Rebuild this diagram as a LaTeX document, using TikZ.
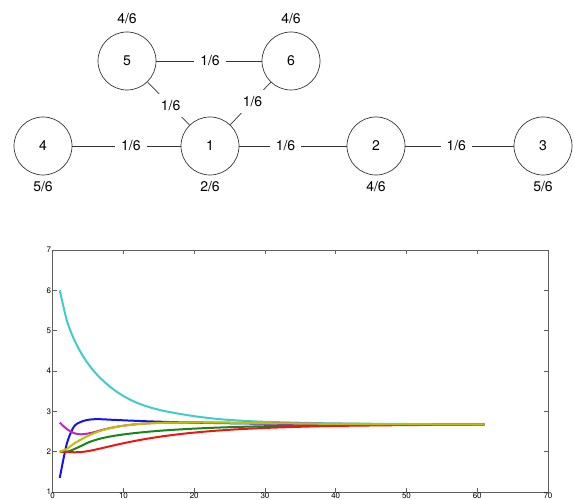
\documentclass[tikz,border=0pt]{standalone}
\usepackage{fontspec}
\setmainfont{TeX Gyre Heros}
\usepackage{pgfplots}
\usetikzlibrary{positioning}
\pgfplotsset{compat=1.18}
\definecolor{PlotBlue}{RGB}{20,20,235}
\definecolor{PlotGreen}{RGB}{20,135,20}
\definecolor{PlotRed}{RGB}{240,20,20}
\definecolor{PlotCyan}{RGB}{64,204,204}
\definecolor{PlotMagenta}{RGB}{191,40,191}
\definecolor{PlotYellow}{RGB}{191,191,0}
\definecolor{FrameGray}{RGB}{95,95,95}

\begin{document}
\begin{tikzpicture}[x=1pt, y=1pt,
    agent/.style={circle, draw=black!80, line width=0.7pt, minimum size=58pt,
                  inner sep=0pt, font=\fontsize{14}{16}\selectfont},
    selfw/.style={inner sep=0pt, font=\fontsize{14}{16}\selectfont},
    link/.style={draw=black!80, line width=0.7pt},
    wgt/.style={fill=white, inner sep=6pt, font=\fontsize{14}{16}\selectfont},
    curve/.style={line width=2pt, smooth}
  ]
  \useasboundingbox (0,0) rectangle (574,500);
  % agents
  \node[agent] (n5) at (127,439) {5};
  \node[agent] (n6) at (291,439) {6};
  \node[agent] (n4) at (43,354)  {4};
  \node[agent] (n1) at (210,354) {1};
  \node[agent] (n2) at (376,354) {2};
  \node[agent] (n3) at (543,354) {3};
  % self weights
  \node[selfw, above=8pt of n5] (s5) {4/6};
  \node[selfw, above=8pt of n6] (s6) {4/6};
  \node[selfw, below=6pt of n4] (s4) {5/6};
  \node[selfw, below=6pt of n1] (s1) {2/6};
  \node[selfw, below=6pt of n2] (s2) {4/6};
  \node[selfw, below=6pt of n3] (s3) {5/6};
  % edge weights
  \draw[link] (n5) -- node[wgt, pos=0.51] {1/6} (n6);
  \draw[link] (n5) -- node[wgt, pos=0.55] {1/6} (n1);
  \draw[link] (n6) -- node[wgt, pos=0.45] {1/6} (n1);
  \draw[link] (n4) -- node[wgt, pos=0.54] {1/6} (n1);
  \draw[link] (n1) -- node[wgt, pos=0.43] {1/6} (n2);
  \draw[link] (n2) -- node[wgt, pos=0.47] {1/6} (n3);
  % consensus iterations
  \begin{axis}[at={(52.7pt,8pt)}, anchor=south west, scale only axis,
      width=495.3pt, height=242pt,
      xmin=0, xmax=70, ymin=1, ymax=7,
      xtick={0,10,...,70}, ytick={1,...,7},
      xticklabels={0,10,20,30,40,50,60,70}, yticklabels={1,2,3,4,5,6,7},
      tick align=inside, major tick length=4pt,
      axis line style={FrameGray, line width=0.8pt},
      every tick/.style={FrameGray, line width=0.6pt},
      tick label style={font=\fontsize{8}{9}\selectfont},
      xticklabel style={inner sep=0.4pt}, yticklabel style={inner sep=1.5pt}]
    \addplot[curve, PlotBlue] coordinates {(1,1.35)(2,2.2)(3,2.62)(4,2.74)(5,2.79)(6,2.805)(7,2.803)(8,2.7937)(9,2.7856)(10,2.7775)(11,2.7698)(12,2.7624)(13,2.7555)(14,2.7491)(15,2.7432)(16,2.7377)(18,2.7280)(20,2.7199)(22,2.7129)(24,2.7071)(26,2.7021)(28,2.6979)(30,2.6944)(36,2.6868)(41,2.6828)(51,2.6785)(61,2.6766)};
    \addplot[curve, PlotGreen] coordinates {(1,2)(2,1.995)(3,2.06)(4,2.14)(5,2.2258)(6,2.2880)(7,2.3348)(8,2.3716)(9,2.4017)(10,2.4271)(11,2.4491)(12,2.4686)(13,2.4860)(14,2.5017)(15,2.5160)(16,2.5290)(18,2.5518)(20,2.5710)(22,2.5873)(24,2.6009)(26,2.6124)(28,2.6222)(30,2.6304)(36,2.6480)(41,2.6573)(51,2.6673)(61,2.6717)};
    \addplot[curve, PlotRed] coordinates {(1,2)(2,1.995)(3,1.985)(4,1.99)(5,2.0138)(6,2.0491)(7,2.0889)(8,2.1299)(9,2.1702)(10,2.2088)(11,2.2452)(12,2.2792)(13,2.3108)(14,2.3400)(15,2.3670)(16,2.3918)(18,2.4357)(20,2.4729)(22,2.5043)(24,2.5308)(26,2.5532)(28,2.5722)(30,2.5882)(36,2.6224)(41,2.6404)(51,2.6599)(61,2.6685)};
    \addplot[curve, PlotCyan] coordinates {(1,6)(2,5.25)(3,4.79)(4,4.45)(5,4.18)(6,3.96)(7,3.78)(8,3.625)(9,3.49)(10,3.38)(11,3.285)(12,3.205)(13,3.14)(14,3.085)(15,3.04)(16,3.0)(18,2.935)(20,2.88)(22,2.835)(24,2.8)(26,2.775)(28,2.755)(30,2.74)(36,2.712)(41,2.698)(51,2.685)(61,2.6788)};
    \addplot[curve, PlotMagenta] coordinates {(1,2.72)(2,2.56)(3,2.46)(4,2.43)(5,2.45)(6,2.49)(7,2.5395)(8,2.5813)(9,2.6158)(10,2.6437)(11,2.6658)(12,2.6830)(13,2.6962)(14,2.7061)(15,2.7133)(16,2.7183)(18,2.7234)(20,2.7241)(22,2.7222)(24,2.7189)(26,2.7148)(28,2.7106)(30,2.7064)(36,2.6944)(41,2.6878)(51,2.6807)(61,2.6775)};
    \addplot[curve, PlotYellow] coordinates {(1,2)(2,2.07)(3,2.2)(4,2.3)(5,2.3910)(6,2.4683)(7,2.5286)(8,2.5759)(9,2.6131)(10,2.6423)(11,2.6651)(12,2.6827)(13,2.6960)(14,2.7060)(15,2.7132)(16,2.7183)(18,2.7234)(20,2.7241)(22,2.7222)(24,2.7189)(26,2.7148)(28,2.7106)(30,2.7064)(36,2.6944)(41,2.6878)(51,2.6807)(61,2.6775)};
  \end{axis}
\end{tikzpicture}
\end{document}
